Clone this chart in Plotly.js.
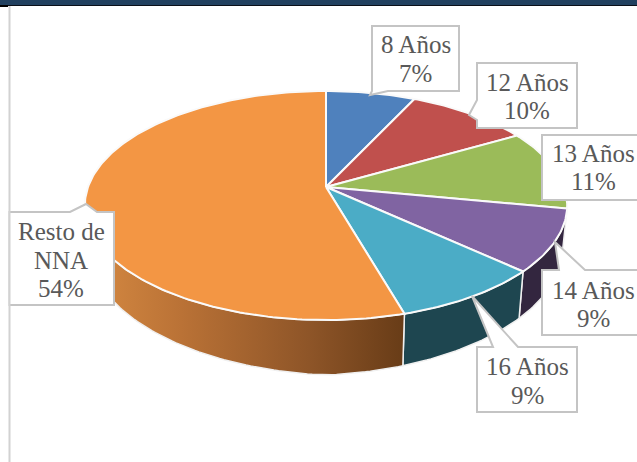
<!DOCTYPE html>
<html>
<head>
<meta charset="utf-8">
<script src="https://cdn.plot.ly/plotly-3.0.1.min.js"></script>
<style>html,body{margin:0;padding:0;background:#fff}#c{width:637px;height:462px}</style>
</head>
<body>
<div id="c"></div>
<script>
var categories = ['8 Años', '12 Años', '13 Años', '14 Años', '16 Años', 'Resto de NNA'];
var categoryLines = [['8 Años'], ['12 Años'], ['13 Años'], ['14 Años'], ['16 Años'], ['Resto de', 'NNA']];
var values = [7.0, 9.7, 11.3, 8.8, 8.71, 54.49];
var percentLabels = ['7%', '10%', '11%', '9%', '9%', '54%'];
var topColors = ['#4F81BD', '#C0504D', '#9BBB59', '#8064A2', '#4BACC6', '#F39644'];
var wallColors = ['#2F4D71', '#73302E', '#5D7035', '#33263F', '#1E4650', null];
var labelCenterX = [415.5, 527, 593, 593, 527, 61];
var labelCenterY = [59, 96.5, 167.5, 304.5, 381, 260];

// perspective projection of the pie disc
var cx = 326, cy = 187, R = 238, S = 111.5, K = 0.1616;
function px(a) { return cx + R * Math.sin(a) / (1 + K * Math.cos(a)); }
function py(a) { return cy - S * Math.cos(a) / (1 + K * Math.cos(a)); }
function wallDepth(a) { return 55 - 11 * Math.abs(Math.sin(a)); }
var rad = Math.PI / 180;
var wallStart = 99.3, wallEnd = 260.7;

var total = values.reduce(function (s, v) { return s + v; }, 0);
var cum = 0, walls = [], tops = [];
values.forEach(function (v, i) {
  var a0 = cum / total * 360, a1 = (cum + v) / total * 360;
  cum += v;

  var tx = [cx], ty = [cy];
  for (var a = a0; a < a1; a += 1) { tx.push(px(a * rad)); ty.push(py(a * rad)); }
  tx.push(px(a1 * rad), cx); ty.push(py(a1 * rad), cy);
  tops.push({
    type: 'scatter', mode: 'lines', x: tx, y: ty, fill: 'toself', fillcolor: topColors[i],
    line: { color: '#FAFAFA', width: 2 }, hoverinfo: 'text', text: categories[i], showlegend: false
  });

  var w0 = Math.max(a0, wallStart), w1 = Math.min(a1, wallEnd);
  if (w1 - w0 > 3) {
    var wx = [], wy = [], bx = [], by = [];
    for (var b = w0; ; b += 1) {
      var c = Math.min(b, w1) * rad;
      wx.push(px(c)); wy.push(py(c));
      bx.push(cx + (px(c) - cx) * 0.98); by.push(py(c) + wallDepth(c));
      if (b >= w1) break;
    }
    var wall = {
      type: 'scatter', mode: 'lines',
      x: wx.concat(bx.reverse(), [wx[0]]), y: wy.concat(by.reverse(), [wy[0]]),
      fill: 'toself', line: { color: '#F0F0F0', width: 1.5 }, hoverinfo: 'skip', showlegend: false
    };
    if (wallColors[i]) {
      wall.fillcolor = wallColors[i];
    } else {
      wall.fillgradient = {
        type: 'horizontal',
        colorscale: [[0, '#D68A42'], [0.3, '#BA7236'], [0.7, '#8E5528'], [1, '#683C17']]
      };
    }
    walls.push(wall);
  }
});

var boxStyle = { color: '#C4C4C4', width: 2 };
function callout(path) {
  return { type: 'path', xref: 'x', yref: 'y', path: path, fillcolor: '#FFFFFF', line: boxStyle, layer: 'above' };
}
var shapes = [
  callout('M372,26 L459,26 L459,91 L388,91 L370,95 L372,91 Z'),
  callout('M477,63 L577,63 L577,128 L477,128 L477,120 L469,115 L477,100 Z'),
  callout('M542,135 L642,135 L642,200 L542,200 Z'),
  callout('M542,270 L559,270 L555,242 L585,270 L642,270 L642,335 L542,335 Z'),
  callout('M477,347 L493,347 L472,296 L518,347 L577,347 L577,412 L477,412 Z'),
  callout('M8,212 L70,212 L86,204 L97,212 L114,212 L114,305 L8,305 Z'),
  { type: 'rect', xref: 'x', yref: 'y', x0: 0, x1: 637, y0: 0, y1: 5, fillcolor: '#21405F', line: { width: 0 }, layer: 'above' },
  { type: 'rect', xref: 'x', yref: 'y', x0: 0, x1: 637, y0: 5, y1: 6, fillcolor: '#0A0F18', line: { width: 0 }, layer: 'above' },
  { type: 'rect', xref: 'x', yref: 'y', x0: 0, x1: 8, y0: 5, y1: 7, fillcolor: '#000000', line: { width: 0 }, layer: 'above' },
  { type: 'rect', xref: 'x', yref: 'y', x0: 0, x1: 8.5, y0: 7, y1: 462, fillcolor: '#FFFFFF', line: { width: 0 }, layer: 'above' },
  { type: 'line', xref: 'x', yref: 'y', x0: 9.5, x1: 9.5, y0: 6, y1: 462, line: { color: '#D2D2D2', width: 2 }, layer: 'above' }
];

var lineStep = 28.5;
var annotations = [];
categoryLines.forEach(function (lines, i) {
  var all = lines.concat([percentLabels[i]]);
  all.forEach(function (t, j) {
    annotations.push({
      xref: 'x', yref: 'y', x: labelCenterX[i], y: labelCenterY[i] + (j - (all.length - 1) / 2) * lineStep,
      text: t, showarrow: false, xanchor: 'center', yanchor: 'middle', align: 'center',
      font: { family: '"Liberation Serif", serif', size: 25, color: '#595959' }
    });
  });
});

Plotly.newPlot('c', walls.concat(tops), {
  width: 637, height: 462,
  margin: { l: 0, r: 0, t: 0, b: 0 },
  paper_bgcolor: '#FFFFFF', plot_bgcolor: '#FFFFFF',
  xaxis: { range: [0, 637], visible: false, fixedrange: true },
  yaxis: { range: [462, 0], visible: false, fixedrange: true },
  shapes: shapes, annotations: annotations, showlegend: false
}, { displayModeBar: false, staticPlot: true });
</script>
</body>
</html>
